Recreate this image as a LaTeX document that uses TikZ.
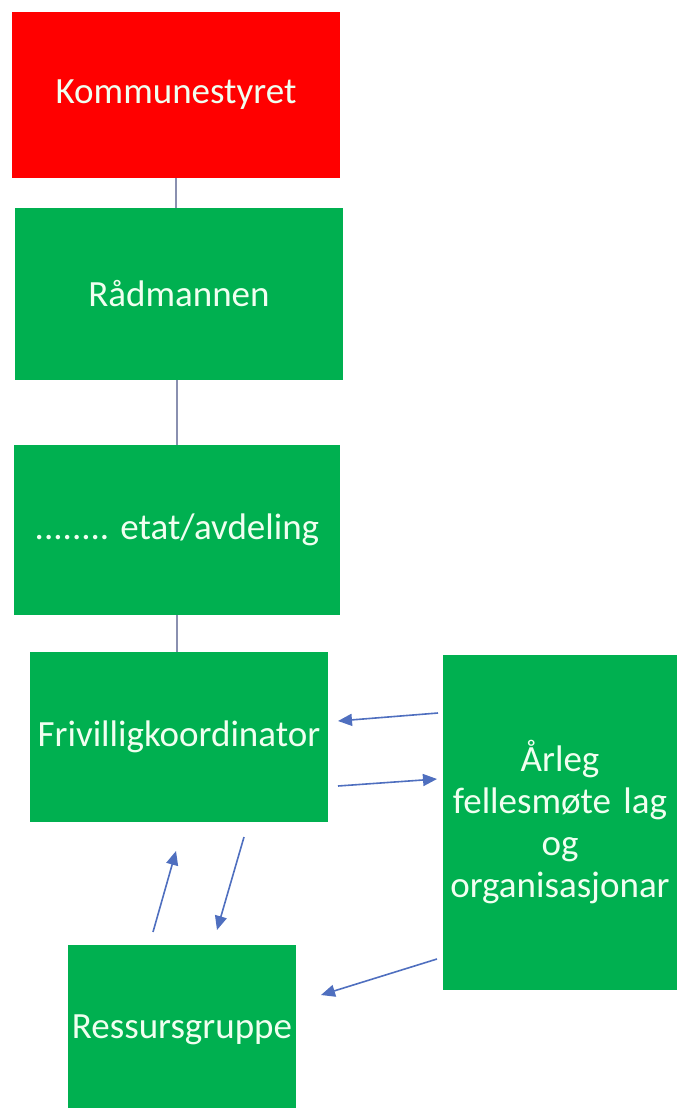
\documentclass[tikz,border=0pt]{standalone}
\usepackage{fontspec}
\setmainfont{Carlito}
\usetikzlibrary{arrows.meta}
\definecolor{boxgreen}{HTML}{00B050}
\definecolor{boxred}{HTML}{FF0000}
\definecolor{linkgrey}{HTML}{8A90B0}
\definecolor{arrblue}{HTML}{4F6FBF}
\begin{document}
\begin{tikzpicture}[x=1pt,y=-1pt,
	box/.style={fill=boxgreen,text=white!94!green,font=\fontsize{37}{42}\selectfont,align=center,inner sep=0pt},
	link/.style={color=linkgrey,line width=1.6pt},
	arr/.style={color=arrblue,line width=1.6pt,-{Triangle[length=14pt,width=12pt]}}]
				\useasboundingbox (0,0) rectangle (679,1108);
				\node[box,fill=boxred,minimum width=328,minimum height=166] (komm) at (176,95) {Kommunestyret};
				\node[box,minimum width=328,minimum height=172] (rad) at (179,294) {Rådmannen};
				\node[box,minimum width=326,minimum height=170] (etat) at (177,530) {........ etat/avdeling};
				\node[box,minimum width=298,minimum height=170] (friv) at (179,737) {Frivilligkoordinator};
				\node[box,minimum width=234,minimum height=335,text width=234] (arleg) at (560,822) {Årleg\\fellesmøte lag\\og\\organisasjonar};
				\node[box,minimum width=228,minimum height=170] (ress) at (182,1030) {Ressursgruppe};
				\coordinate (a1) at (438,713);
				\coordinate (b1) at (338,721);
				\coordinate (a2) at (338,786);
				\coordinate (b2) at (437,779);
				\coordinate (a3) at (244,837);
				\coordinate (b3) at (217,930);
				\coordinate (a4) at (153,932);
				\coordinate (b4) at (176,851);
				\coordinate (a5) at (437,959);
				\coordinate (b5) at (321,995);
				\path[link]
				(komm.south) edge (komm.south |- rad.north)
				(etat.north) edge (etat.north |- rad.south)
				(etat.south) edge (etat.south |- friv.north);
				\path[arr]
				(a1) edge (b1)
				(a2) edge (b2)
				(a3) edge (b3)
				(a4) edge (b4)
				(a5) edge (b5);
			\end{tikzpicture}
\end{document}
